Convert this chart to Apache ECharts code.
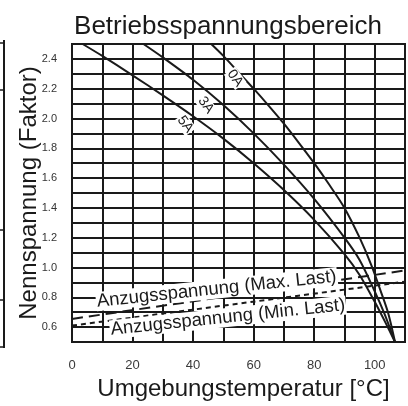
<!DOCTYPE html>
<html>
<head>
<meta charset="utf-8">
<script src="https://cdn.jsdelivr.net/npm/echarts@6/dist/echarts.min.js"></script>
<style>
html,body{margin:0;padding:0;background:#fff;}
#chart{width:408px;height:406px;}
</style>
</head>
<body>
<div id="chart"></div>
<script>
// ---- data ----
const titleText = 'Betriebsspannungsbereich';
const xAxisName = 'Umgebungstemperatur [°C]';
const yAxisName = 'Nennspannung (Faktor)';

const temps0A  = [46, 50, 55, 60, 65, 70, 75, 80, 85, 90, 95, 99, 102, 104.5, 106.7];
const volts0A  = [2.5, 2.42, 2.31, 2.2, 2.085, 1.965, 1.835, 1.7, 1.555, 1.4, 1.2, 1.01, 0.84, 0.69, 0.5];

const temps3A  = [23.6, 30, 40, 50, 60, 70, 80, 90, 95, 100, 103.2, 106.7];
const volts3A  = [2.5, 2.41, 2.26, 2.09, 1.9, 1.69, 1.46, 1.2, 1.05, 0.84, 0.69, 0.5];

const temps5A  = [3.5, 10, 20, 30, 40, 50, 60, 70, 80, 90, 95, 100, 103.3, 106.7];
const volts5A  = [2.5, 2.42, 2.29, 2.155, 2.015, 1.865, 1.7, 1.52, 1.32, 1.09, 0.95, 0.77, 0.64, 0.5];

const tempsPull = [0, 110];
const voltsMax  = [0.655, 0.98];
const voltsMin  = [0.61, 0.905];

const curveLabels = ['0A', '3A', '5A'];
const curveLabelPos = [[53.9, 2.27], [44.2, 2.09], [37.4, 1.96]];
const pullLabels = ['Anzugsspannung (Max. Last)', 'Anzugsspannung (Min. Last)'];
const pullLabelPos = [[47.8, 0.855], [51.5, 0.665]];

const xTicks = [0, 20, 40, 60, 80, 100];
const yTicks = [0.6, 0.8, 1.0, 1.2, 1.4, 1.6, 1.8, 2.0, 2.2, 2.4];

// ---- chart ----
const zip = (a, b) => a.map((v, i) => [v, b[i]]);
const FONT = '"Liberation Sans", Arial, sans-serif';
const INK = '#1a1a1a';

const chart = echarts.init(document.getElementById('chart'), null, {renderer: 'canvas'});

function curve(name, t, v) {
  return {
    name, type: 'line', data: zip(t, v), smooth: 0.3, showSymbol: false, silent: true,
    lineStyle: {color: INK, width: 2}, z: 3
  };
}

const option = {
  backgroundColor: '#fff',
  animation: false,
  title: {
    text: titleText, left: 223, top: 9, textAlign: 'center',
    textStyle: {fontFamily: FONT, fontSize: 26, fontWeight: 'normal', color: INK}
  },
  grid: {left: 72, right: 0, top: 44, bottom: 55, show: true, borderColor: INK, borderWidth: 2, backgroundColor: 'transparent'},
  xAxis: {
    type: 'value', min: 0, max: 110, interval: 10,
    name: xAxisName, nameLocation: 'middle', nameGap: 35, nameMoveOverlap: false,
    nameTextStyle: {fontFamily: FONT, fontSize: 24, color: INK, padding: [0, 0, 0, 10]},
    axisLine: {show: true, lineStyle: {color: INK, width: 2}},
    axisTick: {show: false},
    axisLabel: {
      margin: 17, color: '#3a3a3a', fontFamily: FONT, fontSize: 13,
      formatter: v => xTicks.includes(Math.round(v)) ? String(Math.round(v)) : ''
    },
    splitLine: {show: true, lineStyle: {color: INK, width: 2}}
  },
  yAxis: {
    type: 'value', min: 0.5, max: 2.5, interval: 0.1,
    name: yAxisName, nameLocation: 'middle', nameGap: 31, nameMoveOverlap: false,
    nameTextStyle: {fontFamily: FONT, fontSize: 24, color: INK},
    axisLine: {show: true, lineStyle: {color: INK, width: 2}},
    axisTick: {show: false},
    axisLabel: {
      margin: 15, color: '#333', fontFamily: FONT, fontSize: 11,
      formatter: v => {
        const r = Math.round(v * 10) / 10;
        return yTicks.some(t => Math.abs(t - r) < 1e-6) ? r.toFixed(1) : '';
      }
    },
    splitLine: {show: true, lineStyle: {color: INK, width: 2}}
  },
  series: [
    curve('0A', temps0A, volts0A),
    curve('3A', temps3A, volts3A),
    curve('5A', temps5A, volts5A),
    {
      name: 'Max', type: 'line', data: zip(tempsPull, voltsMax), showSymbol: false, silent: true,
      lineStyle: {color: INK, width: 2, type: [11, 6]}, z: 3
    },
    {
      name: 'Min', type: 'line', data: zip(tempsPull, voltsMin), showSymbol: false, silent: true,
      lineStyle: {color: INK, width: 2, type: [5, 4]}, z: 3
    },
    {
      name: 'curveLabels', type: 'scatter', symbolSize: 0, silent: true, z: 5,
      itemStyle: {opacity: 1},
      data: curveLabelPos.map((p, i) => ({value: p, name: curveLabels[i]})),
      label: {
        show: true, position: 'inside', formatter: p => p.name, rotate: -54, opacity: 1,
        fontFamily: FONT, fontSize: 14, color: INK, backgroundColor: '#fff', padding: [0, 1]
      }
    },
    {
      name: 'pullLabels', type: 'scatter', symbolSize: 0, silent: true, z: 5,
      itemStyle: {opacity: 1},
      data: pullLabelPos.map((p, i) => ({value: p, name: pullLabels[i]})),
      label: {
        show: true, position: 'inside', formatter: p => p.name, opacity: 1, rotate: 6,
        fontFamily: FONT, fontSize: 18.5, color: INK, backgroundColor: '#fff', padding: [0, 1]
      }
    }
  ],
  graphic: [
    {type: 'line', shape: {x1: 4, y1: 40, x2: 4, y2: 348}, style: {stroke: INK, lineWidth: 2}, silent: true},
    {type: 'line', shape: {x1: 0, y1: 43, x2: 4, y2: 43}, style: {stroke: INK, lineWidth: 1.5}, silent: true},
    {type: 'line', shape: {x1: 0, y1: 90, x2: 4, y2: 90}, style: {stroke: INK, lineWidth: 1.5}, silent: true},
    {type: 'line', shape: {x1: 0, y1: 230, x2: 4, y2: 230}, style: {stroke: INK, lineWidth: 1.5}, silent: true},
    {type: 'line', shape: {x1: 0, y1: 300, x2: 4, y2: 300}, style: {stroke: INK, lineWidth: 1.5}, silent: true},
    {type: 'line', shape: {x1: 0, y1: 347, x2: 4, y2: 347}, style: {stroke: INK, lineWidth: 1.5}, silent: true}
  ]
};
chart.setOption(option);
</script>
</body>
</html>
